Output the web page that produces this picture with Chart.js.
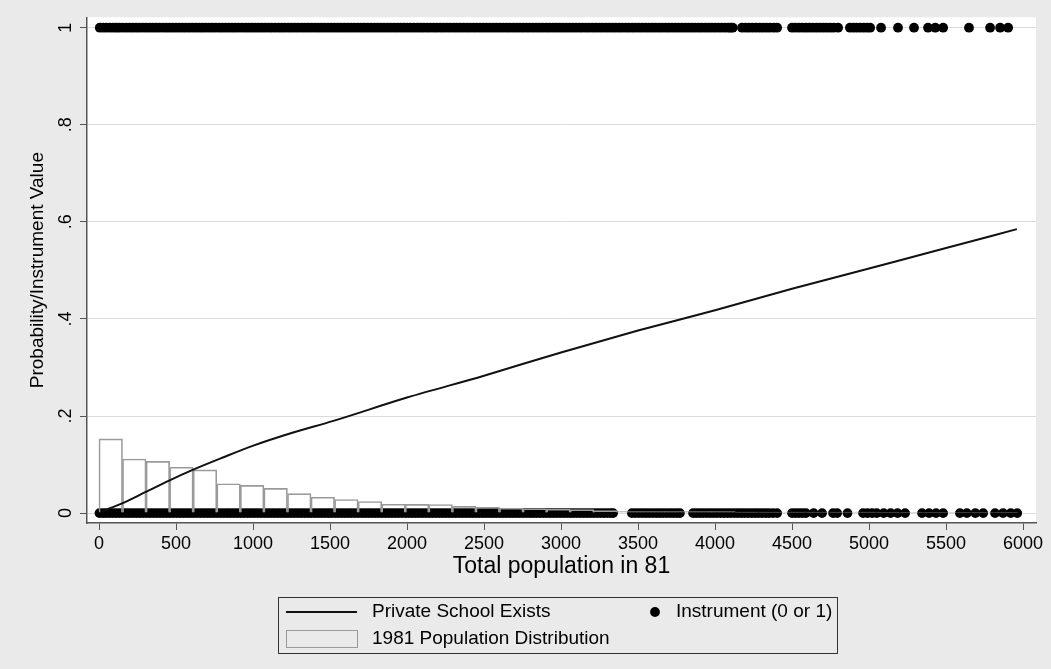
<!DOCTYPE html>
<html><head><meta charset="utf-8">
<script src="https://cdn.jsdelivr.net/npm/chart.js@4.4.0/dist/chart.umd.min.js"></script>
<style>html,body{margin:0;padding:0;background:#eaeaea;}canvas{display:block;}</style>
</head><body>
<canvas id="c" width="1051" height="669"></canvas>
<script>
// ---- axis ticks ----
const xTickValues = [0, 500, 1000, 1500, 2000, 2500, 3000, 3500, 4000, 4500, 5000, 5500, 6000];
const xTickLabels = ['0', '500', '1000', '1500', '2000', '2500', '3000', '3500', '4000', '4500', '5000', '5500', '6000'];
const yTickValues = [0, 0.2, 0.4, 0.6, 0.8, 1];
const yTickLabels = ['0', '.2', '.4', '.6', '.8', '1'];

// ---- series labels ----
const lineLabel = 'Private School Exists';
const dotLabel = 'Instrument (0 or 1)';
const histLabel = '1981 Population Distribution';
const xTitle = 'Total population in 81';
const yTitle = 'Probability/Instrument Value';

// ---- 1981 population distribution (bin centres, share of villages) ----
const histBinCenters = [76, 229, 382, 535, 688, 841, 994, 1147, 1300, 1453, 1606, 1759, 1912, 2065, 2218, 2371, 2524, 2677, 2830, 2983, 3136, 3289, 3442, 3595, 3748, 3901, 4054, 4207, 4360, 4513, 4666, 4819, 4972, 5125, 5278, 5431, 5584, 5737, 5890];
const histShares = [0.153, 0.1115, 0.1066, 0.0944, 0.089, 0.0605, 0.057, 0.051, 0.040, 0.0326, 0.028, 0.0238, 0.0183, 0.018, 0.0177, 0.014, 0.012, 0.010, 0.009, 0.008, 0.007, 0.005, 0.003, 0.003, 0.003, 0.003, 0.003, 0.002, 0.002, 0.002, 0.002, 0.002, 0.002, 0.001, 0.001, 0.001, 0.001, 0.001, 0.001];

// ---- fitted probability curve ----
const curveX = [20, 150, 300, 455, 608, 800, 1002, 1250, 1522, 2000, 2500, 3000, 3500, 4000, 4500, 5000, 5500, 5960];
const curveP = [0.004, 0.02, 0.043, 0.067, 0.089, 0.114, 0.139, 0.165, 0.19, 0.238, 0.283, 0.331, 0.376, 0.418, 0.462, 0.504, 0.546, 0.585];

// ---- instrument observations: village populations with instrument = 1 ----
const instrumentOneX = [5, 27, 48, 70, 92, 112, 131, 154, 177, 199, 220, 241, 262, 284, 306, 328, 349, 370, 391, 414, 436, 457, 478, 499, 520, 542, 563, 585, 607, 629, 650, 671, 692, 714, 735, 757, 779, 800, 821, 843, 864, 885, 906, 929, 951, 972, 993, 1015, 1036, 1057, 1078, 1100, 1121, 1143, 1165, 1186, 1207, 1229, 1250, 1272, 1293, 1315, 1336, 1358, 1379, 1401, 1422, 1443, 1464, 1486, 1508, 1530, 1551, 1572, 1593, 1615, 1636, 1658, 1680, 1701, 1722, 1744, 1765, 1787, 1808, 1830, 1851, 1873, 1894, 1916, 1937, 1959, 1980, 2001, 2022, 2044, 2066, 2087, 2108, 2130, 2151, 2173, 2194, 2216, 2237, 2259, 2280, 2302, 2323, 2345, 2366, 2388, 2409, 2431, 2452, 2474, 2495, 2517, 2538, 2560, 2581, 2603, 2624, 2646, 2667, 2689, 2710, 2732, 2753, 2775, 2796, 2818, 2839, 2861, 2882, 2904, 2925, 2947, 2968, 2990, 3011, 3033, 3054, 3076, 3097, 3119, 3140, 3162, 3183, 3205, 3226, 3248, 3269, 3291, 3312, 3334, 3355, 3377, 3398, 3420, 3441, 3463, 3484, 3506, 3527, 3549, 3570, 3592, 3613, 3635, 3656, 3678, 3699, 3721, 3742, 3764, 3785, 3807, 3828, 3850, 3871, 3893, 3914, 3936, 3957, 3979, 4000, 4022, 4043, 4065, 4086, 4101, 4115,
  4175, 4198, 4220, 4243, 4265, 4288, 4310, 4333, 4355, 4380, 4403,
  4500, 4522, 4545, 4568, 4590, 4612, 4635, 4658, 4680, 4702, 4725, 4748, 4770, 4799,
  4876, 4898, 4920, 4943, 4965, 4987, 5007,
  5078, 5188, 5292, 5383, 5430, 5481,
  5649,
  5786, 5851, 5903];
// ---- instrument observations: village populations with instrument = 0 ----
const instrumentZeroX = [3, 25, 46, 68, 90, 112, 134, 156, 178, 199, 221, 243, 265, 287, 309, 330, 352, 374, 396, 418, 440, 461, 483, 505, 527, 549, 571, 592, 614, 636, 658, 680, 702, 723, 745, 767, 789, 811, 833, 854, 876, 898, 920, 942, 964, 985, 1007, 1029, 1051, 1073, 1095, 1116, 1138, 1160, 1182, 1204, 1226, 1247, 1269, 1291, 1313, 1335, 1357, 1378, 1400, 1422, 1444, 1466, 1488, 1509, 1531, 1553, 1575, 1597, 1619, 1640, 1662, 1684, 1706, 1728, 1750, 1771, 1793, 1815, 1837, 1859, 1881, 1902, 1924, 1946, 1968, 1990, 2012, 2033, 2055, 2077, 2099, 2121, 2143, 2164, 2186, 2208, 2230, 2252, 2274, 2295, 2317, 2339, 2361, 2383, 2405, 2426, 2448, 2470, 2492, 2514, 2536, 2557, 2579, 2601, 2623, 2645, 2667, 2688, 2710, 2732, 2754, 2776, 2798, 2819, 2841, 2863, 2885, 2907, 2929, 2950, 2972, 2994, 3016, 3038, 3060, 3081, 3103, 3125, 3147, 3169, 3191, 3212, 3234, 3256, 3278, 3300, 3322, 3338,
  3460, 3482, 3505, 3528, 3550, 3572, 3595, 3618, 3640, 3662, 3685, 3708, 3730, 3752, 3772,
  3857, 3878, 3900, 3922, 3945, 3968, 3990, 4012, 4035, 4058, 4080, 4102, 4125, 4148, 4170, 4192, 4215, 4238, 4260, 4282, 4305, 4328, 4350, 4376, 4403,
  4500, 4522, 4545, 4568, 4590, 4640, 4695,
  4766, 4793, 4860,
  4961, 4990, 5020, 5050, 5095, 5140, 5185, 5234,
  5344, 5390, 5435, 5481,
  5590, 5635, 5690, 5741,
  5818, 5870, 5920, 5962];

const FONT = '"Liberation Sans", Arial, Helvetica, sans-serif';

const backgroundPlugin = {
  id: 'bg',
  beforeDraw(chart) {
    const ctx = chart.ctx, a = chart.chartArea;
    ctx.save();
    ctx.fillStyle = '#eaeaea';
    ctx.fillRect(0, 0, chart.width, chart.height);
    ctx.fillStyle = '#ffffff';
    ctx.fillRect(a.left, a.top, a.right - a.left, a.bottom - a.top);
    ctx.restore();
  }
};

const legendPlugin = {
  id: 'stataLegend',
  afterDraw(chart) {
    const ctx = chart.ctx;
    const ds = chart.data.datasets;
    const line = ds.find(d => d.label === lineLabel);
    const dots = ds.find(d => d.label === dotLabel);
    const hist = ds.find(d => d.label === histLabel);
    const bx = 278, by = 597, bw = 559, bh = 56;
    ctx.save();
    ctx.strokeStyle = '#333';
    ctx.lineWidth = 1;
    ctx.strokeRect(bx + 0.5, by + 0.5, bw, bh);
    const r1 = 612, r2 = 639;
    ctx.strokeStyle = line.borderColor;
    ctx.lineWidth = line.borderWidth;
    ctx.beginPath(); ctx.moveTo(286, r1); ctx.lineTo(357, r1); ctx.stroke();
    ctx.strokeStyle = hist.borderColor;
    ctx.lineWidth = 1;
    ctx.strokeRect(286.5, r2 - 8.5, 71, 17);
    ctx.fillStyle = dots.backgroundColor;
    ctx.beginPath(); ctx.arc(655, r1, dots.pointRadius, 0, Math.PI * 2); ctx.fill();
    ctx.fillStyle = '#000';
    ctx.font = '19px ' + FONT;
    ctx.textBaseline = 'middle';
    ctx.textAlign = 'left';
    ctx.fillText(line.label, 372, r1);
    ctx.fillText(dots.label, 676, r1);
    ctx.fillText(hist.label, 372, r2);
    ctx.restore();
  }
};

const chart = new Chart(document.getElementById('c'), {
  type: 'scatter',
  data: {
    datasets: [
      {
        type: 'line',
        label: lineLabel,
        data: curveX.map((x, i) => ({x: x, y: curveP[i]})),
        borderColor: '#111111',
        borderWidth: 2,
        pointRadius: 0,
        cubicInterpolationMode: 'monotone',
        fill: false,
        order: 0
      },
      {
        type: 'bar',
        label: histLabel,
        data: histBinCenters.map((x, i) => ({x: x, y: histShares[i]})),
        backgroundColor: 'rgba(255,255,255,0)',
        borderColor: '#9a9a9a',
        borderWidth: 1,
        barPercentage: 1,
        categoryPercentage: 1,
        order: 1
      },
      {
        type: 'scatter',
        label: dotLabel,
        data: instrumentOneX.map(x => ({x: x, y: 1})).concat(instrumentZeroX.map(x => ({x: x, y: 0}))),
        backgroundColor: '#000000',
        borderWidth: 0,
        pointRadius: 4.9,
        pointHoverRadius: 4.9,
        order: 2
      }
    ]
  },
  options: {
    responsive: false,
    devicePixelRatio: 1,
    animation: false,
    events: [],
    layout: {padding: {left: 0, right: 15, top: 12, bottom: 0}},
    plugins: {legend: {display: false}, tooltip: {enabled: false}},
    scales: {
      x: {
        type: 'linear',
        min: -78,
        max: 6084,
        offset: false,
        afterBuildTicks(s) { s.ticks = xTickValues.map(v => ({value: v})); },
        afterFit(s) { s.height = 146; },
        ticks: {
          callback(v) { const i = xTickValues.indexOf(v); return i >= 0 ? xTickLabels[i] : ''; },
          font: {family: FONT, size: 18},
          color: '#000',
          padding: 3,
          maxRotation: 0,
          autoSkip: false
        },
        grid: {drawOnChartArea: false, drawTicks: true, tickLength: 7, tickColor: '#555', offset: false},
        border: {display: true, color: '#555', width: 1.5},
        title: {display: true, text: xTitle, font: {family: FONT, size: 23}, color: '#000', padding: {top: 0, bottom: 89}}
      },
      y: {
        type: 'linear',
        min: -0.0204,
        max: 1.0214,
        afterBuildTicks(s) { s.ticks = yTickValues.map(v => ({value: v})); },
        afterFit(s) { s.width = 87; },
        ticks: {
          callback(v) { const i = yTickValues.findIndex(t => Math.abs(t - v) < 1e-9); return i >= 0 ? yTickLabels[i] : ''; },
          font: {family: FONT, size: 18},
          color: '#000',
          minRotation: 90,
          maxRotation: 90,
          crossAlign: 'center',
          padding: 6.5,
          autoSkip: false
        },
        grid: {drawOnChartArea: true, color: '#dcdcdc', lineWidth: 1, drawTicks: true, tickLength: 7, tickColor: '#555'},
        border: {display: true, color: '#555', width: 1.5},
        title: {display: true, text: yTitle, font: {family: FONT, size: 19}, color: '#000', padding: {top: 26.5, bottom: 0}}
      }
    }
  },
  plugins: [backgroundPlugin, legendPlugin]
});
</script>
</body></html>
